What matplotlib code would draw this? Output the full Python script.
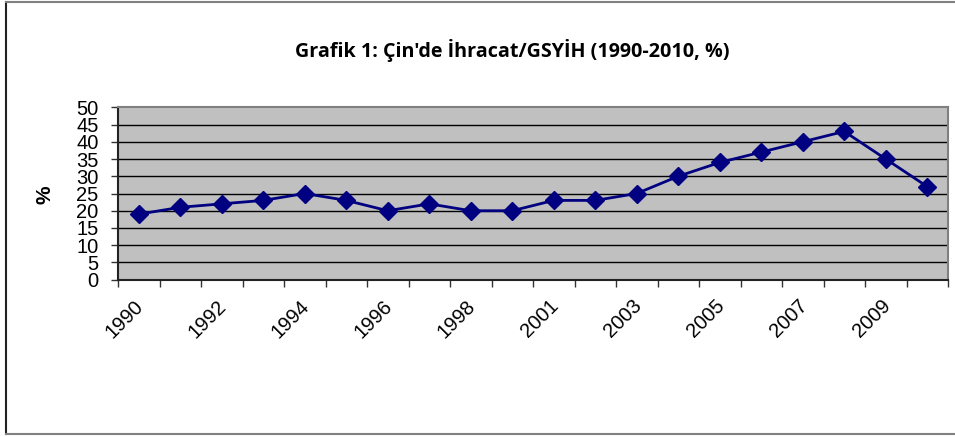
import matplotlib
matplotlib.use("Agg")
import matplotlib.pyplot as plt
from matplotlib.lines import Line2D

years = ["1990", "1991", "1992", "1993", "1994", "1995", "1996", "1997", "1998", "1999",
         "2001", "2002", "2003", "2004", "2005", "2006", "2007", "2008", "2009", "2010"]
values = [19, 21, 22, 23, 25, 23, 20, 22, 20, 20,
          23, 23, 25, 30, 34, 37, 40, 43, 35, 27]
title = "Grafik 1: Çin'de İhracat/GSYİH (1990-2010, %)"
ylabel = "%"
yticks = [0, 5, 10, 15, 20, 25, 30, 35, 40, 45, 50]

W, H = 955, 437
fig = plt.figure(figsize=(W / 100, H / 100), dpi=100)
fig.patch.set_facecolor("white")

L, R, T, B = 118, 948, 107.3, 279.7
ax = fig.add_axes([L / W, 1 - B / H, (R - L) / W, (B - T) / H])
ax.set_facecolor("#C0C0C0")

x = list(range(len(years)))
ax.plot(x, values, color="#000080", lw=2, marker="D", ms=9,
        markerfacecolor="#000080", markeredgecolor="#000080", zorder=3)

ax.set_xlim(-0.5, len(years) - 0.5)
ax.set_ylim(0, 50)
ax.set_yticks(yticks)
ax.set_yticklabels([str(v) for v in yticks], fontsize=14.5, family="Liberation Sans")
for v in yticks[1:-1]:
    ax.axhline(v, color="black", lw=1, zorder=1)

ax.set_xticks([i - 0.5 for i in range(len(years) + 1)])
ax.set_xticklabels([])
ax.tick_params(axis="x", direction="out", length=5, width=1, color="#333333")
ax.tick_params(axis="y", direction="out", length=5, width=1, color="#333333", pad=9)

for i in range(0, len(years), 2):
    ax.text(i - 0.12, -4.8, years[i], rotation=45, ha="right", va="top",
            rotation_mode="anchor", fontsize=14.5, family="Liberation Sans")

for side in ["left", "bottom"]:
    ax.spines[side].set_color("#222222")
    ax.spines[side].set_linewidth(1.5)
for side in ["top", "right"]:
    ax.spines[side].set_color("#808080")
    ax.spines[side].set_linewidth(1.5)

fig.text(45 / W, 1 - 195 / H, ylabel, rotation=90, ha="center", va="center",
         fontsize=15, fontweight="bold", family="Liberation Sans")
fig.text(512 / W, 1 - 50 / H, title, ha="center", va="center",
         fontsize=14.2, fontweight="bold", family="Open Sans")

# outer chart border
fig.add_artist(Line2D([6 / W, 6 / W], [1 - 2 / H, 1 - 434 / H], color="#222222", lw=1.5))
fig.add_artist(Line2D([6 / W, 1], [1 - 2 / H, 1 - 2 / H], color="#808080", lw=1.5))
fig.add_artist(Line2D([6 / W, 1], [1 - 434 / H, 1 - 434 / H], color="#808080", lw=1.5))

fig.savefig("out.png", dpi=100)
